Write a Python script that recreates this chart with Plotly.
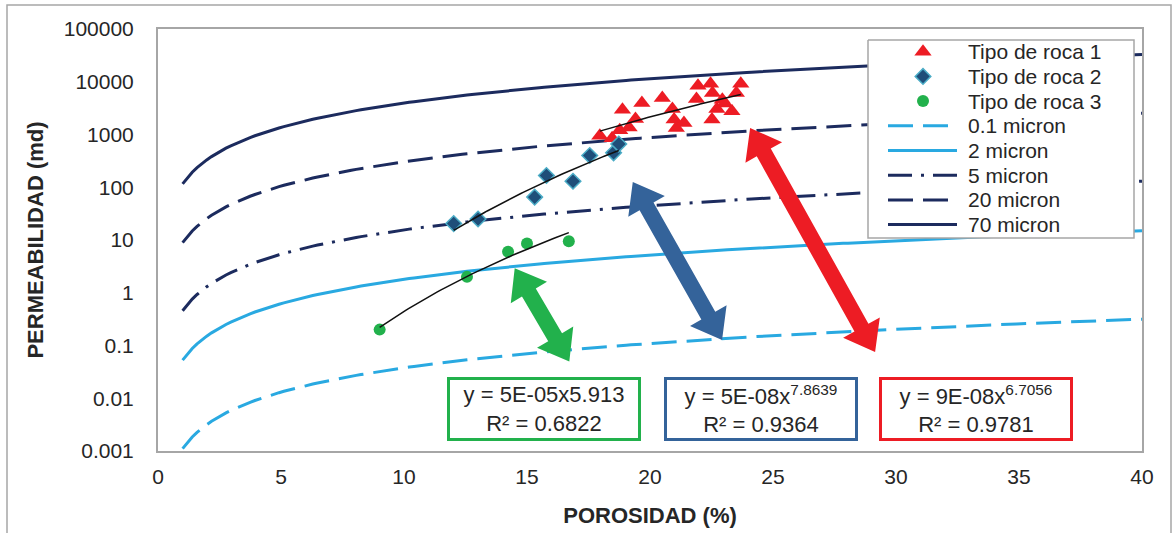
import numpy as np
import plotly.graph_objects as go

# ---------------- data ----------------
# Rock type samples: porosity (%) and permeability (md)
phi_roca1 = [17.96, 18.46, 18.77, 19.15, 18.88, 19.41, 19.67, 20.50, 20.91, 20.98, 21.07, 21.38,
             21.95, 22.46, 22.54, 21.89, 22.72, 22.94, 23.04, 22.52, 23.33, 23.69, 23.51]
k_roca1 = [950, 850, 1200, 1350, 2960, 1970, 3970, 4930, 3050, 1920, 1330, 1660,
           8440, 9200, 6130, 4720, 3050, 4580, 3850, 1920, 2750, 9200, 6130]

phi_roca2 = [12.02, 13.01, 15.31, 15.79, 16.87, 17.55, 18.52, 18.73]
k_roca2 = [20.5, 25, 65, 167, 130, 400, 450, 660]

phi_roca3 = [9.01, 12.56, 14.23, 15.00, 16.70]
k_roca3 = [0.20, 2.0, 6.0, 8.6, 9.5]

rock_labels = ["Tipo de roca 1", "Tipo de roca 2", "Tipo de roca 3"]

# Pore-throat radius iso-lines: k = k1 * phi^exponent
radius_labels = ["0.1 micron", "2 micron", "5 micron", "20 micron", "70 micron"]
k_at_phi_1 = [0.00111, 0.0528, 0.457, 8.93, 115.9]
porosity_exponent = 1.532
phi_line_min, phi_line_max = 1.0, 40.0

# Power-law trend line labels
eq_labels = ["y = 5E-05x5.913<br>R² = 0.6822",
             "y = 5E-08x<sup>7.8639</sup><br>R² = 0.9364",
             "y = 9E-08x<sup>6.7056</sup><br>R² = 0.9781"]

x_ticks = [0, 5, 10, 15, 20, 25, 30, 35, 40]
y_tickvals = [1e5, 1e4, 1e3, 1e2, 1e1, 1, 0.1, 0.01, 0.001]
y_ticktext = ["100000", "10000", "1000", "100", "10", "1", "0.1", "0.01", "0.001"]

# ---------------- styling ----------------
W, H = 1175, 533
ML, MR, MT, MB = 158, 33, 29, 82
PW, PH = W - ML - MR, H - MT - MB
X_RANGE = (0, 40)
Y_RANGE = (-3, 5)  # log10

NAVY = "#1C2B5E"
SKY = "#29A9E1"
RED = "#ED1C24"
BLUE = "#34639A"
GREEN = "#22B14C"
FRAME = "#A6A6A6"
TEXT = "#262626"
FONT = "Liberation Sans, Arial, sans-serif"

line_styles = {
    "0.1 micron": dict(color=SKY, width=3, dash="25px,10px"),
    "2 micron": dict(color=SKY, width=3, dash="solid"),
    "5 micron": dict(color=NAVY, width=3, dash="24px,9px,3px,9px"),
    "20 micron": dict(color=NAVY, width=3, dash="25px,10px"),
    "70 micron": dict(color=NAVY, width=3, dash="solid"),
}
marker_styles = [
    dict(symbol="triangle-up", size=15, color=RED, line=dict(width=0)),
    dict(symbol="diamond", size=12, color="#1F4E79", line=dict(width=1.5, color="#4BACC6")),
    dict(symbol="circle", size=12, color=GREEN, line=dict(width=0)),
]

fig = go.Figure()

# Iso-radius curves
phi_grid = np.linspace(phi_line_min, phi_line_max, 200)
for name, k1 in zip(radius_labels, k_at_phi_1):
    fig.add_trace(go.Scatter(
        x=phi_grid, y=k1 * phi_grid ** porosity_exponent, mode="lines", name=name,
        line=line_styles[name], showlegend=False, hoverinfo="skip"))

# Samples
for name, px_, pk_, mk in zip(rock_labels, [phi_roca1, phi_roca2, phi_roca3],
                              [k_roca1, k_roca2, k_roca3], marker_styles):
    fig.add_trace(go.Scatter(x=px_, y=pk_, mode="markers", name=name, marker=mk,
                             showlegend=False))

# Power-law trend lines fitted to each rock type
for px_, pk_ in [(phi_roca1, k_roca1), (phi_roca2, k_roca2), (phi_roca3, k_roca3)]:
    lx, ly = np.log10(px_), np.log10(pk_)
    b, a = np.polyfit(lx, ly, 1)
    xs = np.linspace(min(px_), max(px_), 60)
    fig.add_trace(go.Scatter(x=xs, y=10 ** (a + b * np.log10(xs)), mode="lines",
                             line=dict(color="#111111", width=1.5), showlegend=False,
                             hoverinfo="skip"))

# ---------------- legend (drawn on a pixel-based overlay axis) ----------------
LEG_X0, LEG_X1, LEG_Y0, LEG_Y1 = 868 - ML, 1134 - ML, 40 - MT, 238 - MT
ROW0, ROW_STEP = 51.7 - MT, 24.7
SYM_X0, SYM_X1, SYM_XC, TXT_X = 888 - ML, 957 - ML, 923 - ML, 966 - ML

fig.add_trace(go.Scatter(
    x=[LEG_X0, LEG_X1, LEG_X1, LEG_X0, LEG_X0], y=[LEG_Y0, LEG_Y0, LEG_Y1, LEG_Y1, LEG_Y0],
    mode="lines", fill="toself", fillcolor="white", line=dict(color=FRAME, width=1.5),
    xaxis="x2", yaxis="y2", showlegend=False, hoverinfo="skip"))

legend_entries = [(n, "marker", m) for n, m in zip(rock_labels, marker_styles)] + \
                 [(n, "line", line_styles[n]) for n in radius_labels]
annotations = []
for i, (name, kind, style) in enumerate(legend_entries):
    yc = ROW0 + i * ROW_STEP
    if kind == "marker":
        fig.add_trace(go.Scatter(x=[SYM_XC], y=[yc], mode="markers", marker=style,
                                 xaxis="x2", yaxis="y2", showlegend=False, hoverinfo="skip"))
    else:
        fig.add_trace(go.Scatter(x=[SYM_X0, SYM_X1], y=[yc, yc], mode="lines", line=style,
                                 xaxis="x2", yaxis="y2", showlegend=False, hoverinfo="skip"))
    annotations.append(dict(x=TXT_X, y=yc, xref="x2", yref="y2", text=name, showarrow=False,
                            xanchor="left", yanchor="middle",
                            font=dict(family=FONT, size=21, color=TEXT)))


# ---------------- double-headed arrows ----------------
def to_px(phi, k):
    px = (phi - X_RANGE[0]) / (X_RANGE[1] - X_RANGE[0]) * PW
    py = (Y_RANGE[1] - np.log10(k)) / (Y_RANGE[1] - Y_RANGE[0]) * PH
    return np.array([px, py])


def arrow_path(a, b, shaft=16.0, head_len=28.0, head_w=42.0):
    p0, p1 = to_px(*a), to_px(*b)
    d = p1 - p0
    u = d / np.hypot(*d)
    n = np.array([-u[1], u[0]])
    b0, b1 = p0 + u * head_len, p1 - u * head_len
    pts = [p0, b0 + n * head_w / 2, b0 + n * shaft / 2, b1 + n * shaft / 2, b1 + n * head_w / 2,
           p1, b1 - n * head_w / 2, b1 - n * shaft / 2, b0 - n * shaft / 2, b0 - n * head_w / 2]
    return "M " + " L ".join(f"{x / PW:.5f},{1 - y / PH:.5f}" for x, y in pts) + " Z"


arrows = [((14.5, 2.9), (16.72, 0.05), GREEN),
          ((19.3, 126), (22.93, 0.127), BLUE),
          ((24.07, 1330), (29.15, 0.075), RED)]
shapes = []
for a, b, col in arrows:
    shapes.append(dict(type="path", xref="paper", yref="paper", path=arrow_path(a, b),
                       fillcolor=col, line=dict(width=0), layer="above"))

# outer chart border
shapes.append(dict(type="rect", xref="paper", yref="paper",
                   x0=(7 - ML) / PW, x1=(1171 - ML) / PW,
                   y0=1 - (545 - MT) / PH, y1=1 - (5 - MT) / PH,
                   line=dict(color=FRAME, width=1.5), fillcolor="rgba(0,0,0,0)", layer="below"))

# ---------------- equation boxes ----------------
for txt, xc, col in zip(eq_labels, [15.69, 24.51, 33.25], [GREEN, BLUE, RED]):
    annotations.append(dict(
        x=xc, y=-2.204, xref="x", yref="y", text=txt, showarrow=False,
        xanchor="center", yanchor="middle", align="center",
        font=dict(family=FONT, size=22, color=TEXT),
        width=186, height=56, bordercolor=col, borderwidth=3, borderpad=1, bgcolor="white"))

fig.update_layout(
    width=W, height=H,
    margin=dict(l=ML, r=MR, t=MT, b=MB, autoexpand=False),
    paper_bgcolor="white", plot_bgcolor="white",
    font=dict(family=FONT, color=TEXT),
    shapes=shapes, annotations=annotations,
    showlegend=False,
    xaxis2=dict(overlaying="x", range=[0, PW], visible=False, fixedrange=True),
    yaxis2=dict(overlaying="y", range=[PH, 0], visible=False, fixedrange=True),
)

fig.update_xaxes(
    selector=dict(anchor="y"),
    range=list(X_RANGE), tickvals=x_ticks, ticks="", showgrid=False, zeroline=False,
    showline=True, mirror=True, linecolor=FRAME, linewidth=2,
    tickfont=dict(family=FONT, size=21, color=TEXT), ticklabelstandoff=6,
    title=dict(text="<b>POROSIDAD (%)</b>", font=dict(family=FONT, size=22, color=TEXT), standoff=20),
)
fig.update_layout(yaxis=dict(
    type="log", range=list(Y_RANGE), tickvals=y_tickvals, ticktext=y_ticktext, ticks="",
    showgrid=False, zeroline=False, showline=True, mirror=True, linecolor=FRAME, linewidth=2,
    tickfont=dict(family=FONT, size=21, color=TEXT), ticklabelstandoff=18,
    title=dict(text="<b>PERMEABILIDAD (md)</b>", font=dict(family=FONT, size=22, color=TEXT), standoff=14),
))
fig.update_layout(xaxis=dict(
    range=list(X_RANGE), tickvals=x_ticks, ticks="", showgrid=False, zeroline=False,
    showline=True, mirror=True, linecolor=FRAME, linewidth=2,
    tickfont=dict(family=FONT, size=21, color=TEXT), ticklabelstandoff=6,
    title=dict(text="<b>POROSIDAD (%)</b>", font=dict(family=FONT, size=22, color=TEXT), standoff=20),
))

fig.write_html("out.html")
